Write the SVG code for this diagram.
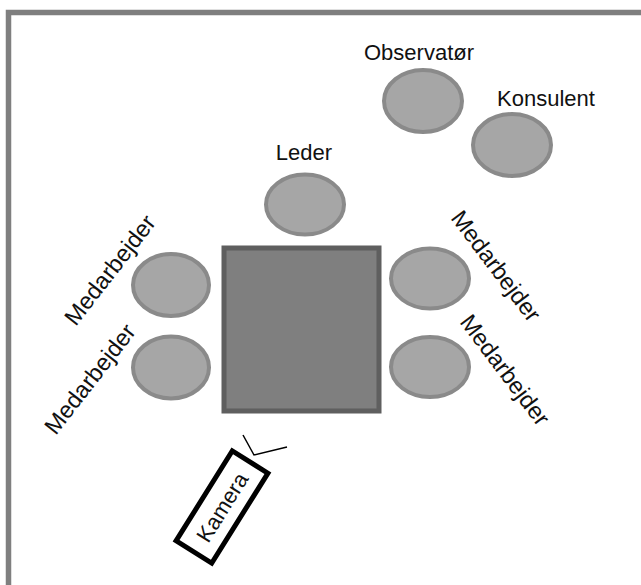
<svg xmlns="http://www.w3.org/2000/svg" width="641" height="585" viewBox="0 0 641 585">
  <style>
    .seat { fill: #a6a6a6; stroke: #8a8a8a; stroke-width: 4; }
    .lbl { font-family: "Liberation Sans", Arial, sans-serif; font-size: 22px; fill: #111111; text-anchor: middle; }
    .rot { font-size: 23.5px; }
    .cam { fill: #ffffff; stroke: #000000; stroke-width: 5; }
  </style>

  <rect width="641" height="585" fill="#ffffff"/>

  <!-- room outline, open past the right and bottom edges -->
  <rect id="room" x="8.5" y="12.5" width="700" height="700" fill="none" stroke="#7f7f7f" stroke-width="5.5"/>

  <!-- meeting table -->
  <g id="table">
    <rect x="224" y="248" width="155" height="163" fill="#7f7f7f" stroke="#5f5f5f" stroke-width="5"/>
  </g>

  <g id="observator">
    <ellipse class="seat" cx="423" cy="101" rx="39" ry="31"/>
    <text class="lbl" x="419" y="60">Observatør</text>
  </g>

  <g id="konsulent">
    <ellipse class="seat" cx="512" cy="145" rx="39" ry="31"/>
    <text class="lbl" x="546" y="106">Konsulent</text>
  </g>

  <g id="leder">
    <ellipse class="seat" cx="305" cy="204.5" rx="39" ry="30"/>
    <text class="lbl" x="304" y="160">Leder</text>
  </g>

  <g id="medarbejder-left-top">
    <ellipse class="seat" cx="171" cy="285" rx="38" ry="31"/>
    <text class="lbl rot" transform="translate(110,270) rotate(-52)" x="0" y="8">Medarbejder</text>
  </g>

  <g id="medarbejder-left-bottom">
    <ellipse class="seat" cx="171" cy="367.5" rx="38" ry="31"/>
    <text class="lbl rot" transform="translate(90,379) rotate(-52)" x="0" y="8">Medarbejder</text>
  </g>

  <g id="medarbejder-right-top">
    <ellipse class="seat" cx="430" cy="278.5" rx="39" ry="30"/>
    <text class="lbl rot" transform="translate(496,266) rotate(53)" x="0" y="8">Medarbejder</text>
  </g>

  <g id="medarbejder-right-bottom">
    <ellipse class="seat" cx="430" cy="367" rx="39" ry="30"/>
    <text class="lbl rot" transform="translate(505,370) rotate(53)" x="0" y="8">Medarbejder</text>
  </g>

  <!-- camera body with its viewing angle -->
  <g id="kamera">
    <g transform="translate(222,507) rotate(-58)">
      <rect class="cam" x="-53" y="-21" width="106" height="42"/>
      <text class="lbl" x="0" y="8">Kamera</text>
    </g>
    <polyline points="243,435 254,455 287,447" fill="none" stroke="#000000" stroke-width="1.5"/>
  </g>
</svg>
